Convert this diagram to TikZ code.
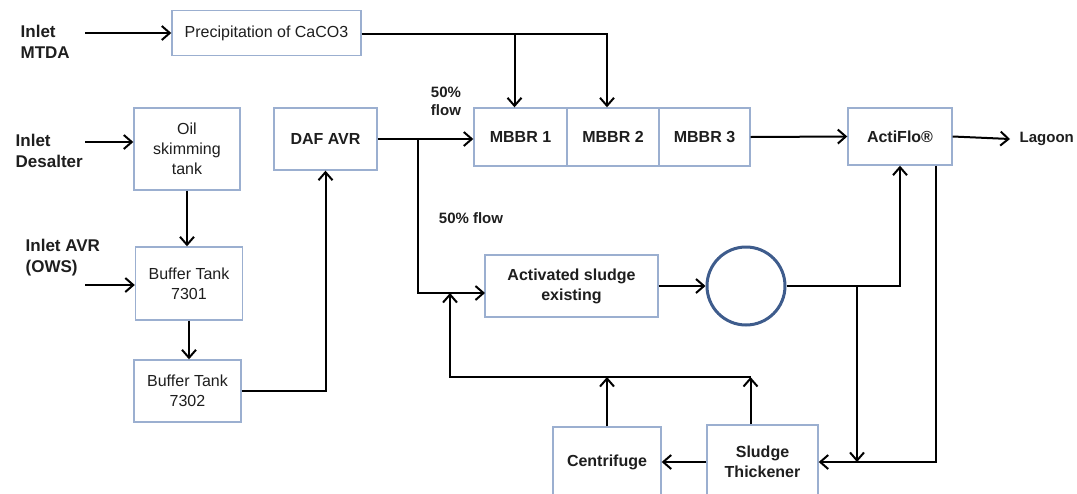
\documentclass[tikz,border=0pt]{standalone}
\usepackage{fontspec}
\setmainfont{Liberation Sans}
\usepackage{tikz}
\usetikzlibrary{arrows.meta,positioning}
\definecolor{boxline}{RGB}{155,175,208}
\definecolor{circline}{RGB}{62,92,140}
\definecolor{ink}{RGB}{30,30,30}

\begin{document}
\begin{tikzpicture}[x=0.5pt,y=-0.5pt,line width=1pt,
	>={Straight Barb[length=4pt,width=7pt]},
	every node/.style={text=ink,font=\fontsize{8}{10}\selectfont},
	box/.style={draw=boxline,line width=0.7pt,fill=white,align=center,inner sep=2pt},
	bbox/.style={box,font=\fontsize{8}{10}\selectfont\bfseries},
	lbl/.style={align=left,font=\fontsize{8.5}{10.5}\selectfont\bfseries}]
				%% frame of the picture
				\path[use as bounding box] (0,0) rectangle (1077,493);
				\clip (0,0) rectangle (1077,493);
				%% inlets placed by hand
				\node[lbl,anchor=west] (mtda) at (13,42){Inlet\\MTDA};
				\node[lbl,anchor=west] (desal) at (8,151){Inlet\\Desalter};
				\node[lbl,anchor=west] (avr) at (18,258){Inlet AVR\\(OWS)};
				\coordinate (in1) at (85,33);\coordinate (in2) at (85,142);\coordinate (in3) at (85,285);
				%% process blocks
				\node[box,minimum width=94.5pt,minimum height=22.5pt] (prec) at (266.5,33){Precipitation of CaCO3};
				\node[box,minimum width=53pt,minimum height=41pt] (oil) at (187,149){Oil\\skimming\\tank};
				\node[box,minimum width=53.5pt,minimum height=36.5pt] (buf1) at (189,283.5){Buffer Tank\\7301};
				\node[box,minimum width=53.5pt,minimum height=31pt] (buf2) at (187.5,391){Buffer Tank\\7302};
				\node[bbox,minimum width=51.5pt,minimum height=31pt] (daf) at (325.5,139){DAF AVR};
				\node[bbox,minimum width=46.5pt,minimum height=29pt] (mb1) at (520.5,137){MBBR 1};
				\node[bbox,minimum width=46pt,minimum height=29pt] (mb2) at (613,137){MBBR 2};
				\node[bbox,minimum width=45.5pt,minimum height=29pt] (mb3) at (704.5,137){MBBR 3};
				\node[bbox,minimum width=52pt,minimum height=28.5pt] (act) at (900,136.5){ActiFlo®};
				\node[lbl,anchor=west,font=\fontsize{7.5}{9}\selectfont\bfseries] (lag) at (1012,139){Lagoon};
				\node[bbox,minimum width=86.5pt,minimum height=31pt] (as) at (571.5,286){Activated sludge\\existing};
				\node[draw=circline,line width=1.5pt,circle,minimum size=39pt,inner sep=0pt] (circ) at (746,286){};
				\node[bbox,minimum width=54pt,minimum height=35pt] (cen) at (607,462){Centrifuge};
				\node[bbox,minimum width=55.5pt,minimum height=37pt] (thk) at (762.5,462){Sludge\\Thickener};
				%% flow labels
				\node[lbl,font=\fontsize{7.5}{9}\selectfont\bfseries] (f1) at (446,101){50\%\\flow};
				\node[lbl,font=\fontsize{7.5}{9}\selectfont\bfseries] (f2) at (471,218){50\% flow};
				%% junctions
				\coordinate (split) at (418,139);
				\coordinate (asin) at (485,293);
				\coordinate (ret) at (450,377);
				\coordinate (tap) at (857,286);
				%% feed lines
				\draw[->] (in1) -- (in1 -| prec.west);
				\draw[->] (in2) -- (in2 -| oil.west);
				\draw[->] (in3) -- (in3 -| buf1.west);
				\draw[->] (oil.south) -- (oil.south |- buf1.north);
				\draw[->] (buf1.south) -- (buf1.south |- buf2.north);
				\draw[->] (buf2.east) -| (daf.south);
				\draw[->] ([yshift=-0.5pt]prec.east) -| ([xshift=-3pt]mb2.north);
				\draw[->] ([xshift=-3pt]mb1.north |- prec.east) -- ([xshift=-3pt]mb1.north);
				%% main line and the 50% split
				\draw[->] (daf.east) -- (daf.east -| mb1.west);
				\draw[->] (split) |- (asin);
				\draw[->] (mb3.east) -- (act.west);
				\draw[->] (act.east) -- ([xshift=-1pt]lag.west);
				\draw[->] (as.east) -- (circ.west);
				\draw[->] (circ.east) -| (act.south);
				\draw[->] (tap) -- (tap |- thk.east);
				\draw[->] ([xshift=-8.5pt]act.south east) |- (thk.east);
				%% sludge return
				\draw[->] (thk.west) -- (cen.east);
				\draw[->] (cen.north) -- (cen.north |- ret);
				\draw[->] ([xshift=-6pt]thk.north) -- ([xshift=-6pt]thk.north |- ret);
				\draw[->] ([xshift=-6pt]thk.north |- ret) -- (ret) -- (ret |- asin);
				\end{tikzpicture}
\end{document}
